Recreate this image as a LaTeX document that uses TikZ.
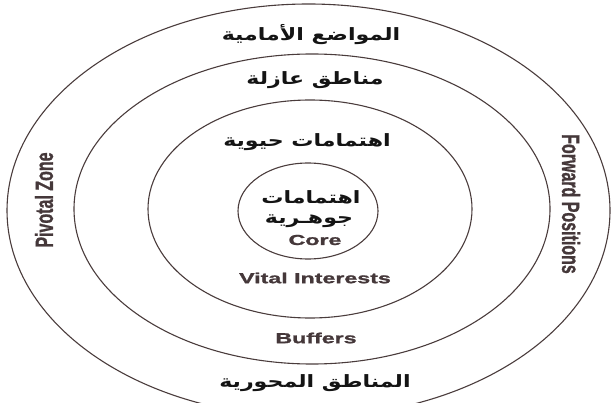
\documentclass[tikz,border=0pt]{standalone}
\usepackage{fontspec}
\usetikzlibrary{shapes.geometric}
\TeXXeTstate=1
\newfontfamily\arabicfont[Script=Arabic]{DejaVu Sans}
\newfontfamily\enfont[BoldFeatures={FakeBold=1.2}]{Liberation Sans}
\definecolor{ringc}{HTML}{4A3C3C}
\definecolor{entext}{HTML}{45383A}
\definecolor{artext}{HTML}{141414}
\newcommand{\artxt}[1]{\scalebox{1.3}[1]{\arabicfont\bfseries\beginR #1\endR}}
\newcommand{\entxt}[1]{\scalebox{1.6}[1]{\enfont\bfseries #1}}
\newcommand{\vtxt}[1]{\scalebox{1}[1.55]{\enfont\bfseries #1}}
\begin{document}
\begin{tikzpicture}[x=1pt,y=-1pt,
  ring/.style={draw=ringc, line width=1.1pt, ellipse, inner sep=0pt},
  arlabel/.style={text=artext, font=\fontsize{17}{20}\selectfont, inner sep=0pt},
  enlabel/.style={text=entext, font=\fontsize{14.5}{17}\selectfont, inner sep=0pt},
  vlabel/.style={text=entext, font=\fontsize{16}{19}\selectfont, inner sep=0pt}]
\useasboundingbox (0,0) rectangle (612,403);
\node[ring, minimum width=603pt, minimum height=413pt] (outer) at (308.5,210.5) {};
\node[ring, minimum width=476pt, minimum height=310pt] (buffer) at (312,209) {};
\node[ring, minimum width=324pt, minimum height=218pt] (vital) at (310,209) {};
\node[ring, minimum width=140pt, minimum height=96pt] (core) at (308,211) {};
\node[arlabel] (fwdar) at (311,35) {\artxt{المواضع الأمامية}};
\node[arlabel] (bufar) at (315,80) {\artxt{مناطق عازلة}};
\node[arlabel] (vitar) at (307,142) {\artxt{اهتمامات حيوية}};
\node[arlabel] (corear1) at (311,197) {\artxt{اهتمامات}};
\node[arlabel] (corear2) at (309,221) {\artxt{جوهـرية}};
\node[enlabel] (coreen) at (315,240) {\entxt{Core}};
\node[enlabel] (viten) at (315,278) {\entxt{Vital Interests}};
\node[enlabel] (bufen) at (316,338) {\entxt{Buffers}};
\node[arlabel] (pivar) at (315,383) {\artxt{المناطق المحورية}};
\node[vlabel, rotate=90] (piven) at (44,200) {\vtxt{Pivotal Zone}};
\node[vlabel, rotate=-90] (fwden) at (571,204) {\vtxt{Forward Positions}};
\end{tikzpicture}
\end{document}
